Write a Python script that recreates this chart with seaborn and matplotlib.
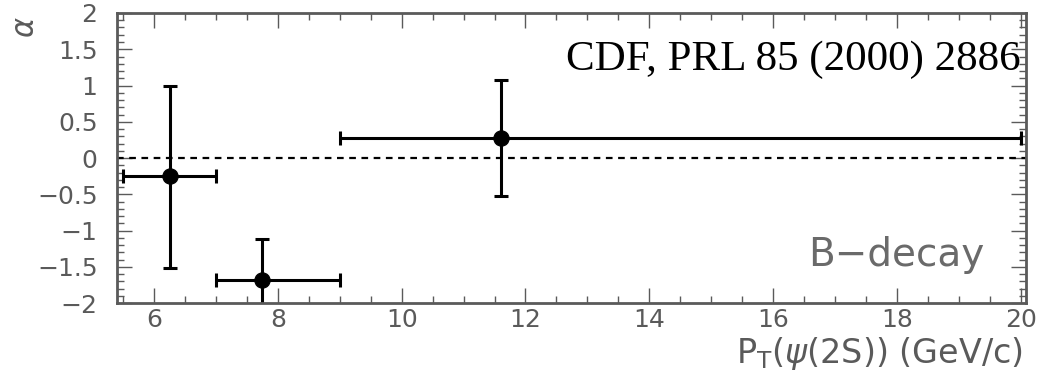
import numpy as np
import pandas as pd
import seaborn as sns
import matplotlib.pyplot as plt
from matplotlib.ticker import MultipleLocator

# data
pt = [6.25, 7.75, 11.6]
alpha = [-0.25, -1.68, 0.27]
pt_lo = [5.5, 7.0, 9.0]
pt_hi = [7.0, 9.0, 20.0]
alpha_lo = [-1.52, -2.3, -0.53]
alpha_hi = [1.0, -1.12, 1.08]

df = pd.DataFrame({"pt": pt, "alpha": alpha})
xerr = [np.array(pt) - np.array(pt_lo), np.array(pt_hi) - np.array(pt)]
yerr = [np.array(alpha) - np.array(alpha_lo), np.array(alpha_hi) - np.array(alpha)]

sns.set_style("ticks")
grey = "#5a5a5a"

fig = plt.figure(figsize=(10.54, 3.71), dpi=100)
ax = fig.add_axes([0.111, 0.183, 0.862, 0.782])

ax.axhline(0, color="black", ls=(0, (3, 2.5)), lw=1.6, zorder=1)
ax.errorbar(pt, alpha, xerr=xerr, yerr=yerr, fmt="none", ecolor="black",
            elinewidth=2.2, capsize=5, capthick=2.2, zorder=2)
sns.scatterplot(data=df, x="pt", y="alpha", ax=ax, color="black", s=120,
                edgecolor="black", zorder=3, legend=False)

ax.set_xlim(5.4, 20.08)
ax.set_ylim(-2, 2)
ax.xaxis.set_major_locator(MultipleLocator(2))
ax.xaxis.set_minor_locator(MultipleLocator(0.5))
ax.yaxis.set_minor_locator(MultipleLocator(0.1))
ax.set_yticks(np.arange(-2, 2.01, 0.5))
ax.set_yticklabels(["\u22122", "\u22121.5", "\u22121", "\u22120.5", "0", "0.5", "1", "1.5", "2"])
ax.tick_params(which="both", direction="in", top=True, right=True, colors=grey,
               labelsize=18, labelcolor=grey)
ax.tick_params(axis="y", pad=14)
ax.tick_params(which="major", length=11, width=1)
ax.tick_params(which="minor", length=5, width=1)
for s in ax.spines.values():
    s.set_color(grey)
    s.set_linewidth(2)

ax.set_xlabel(r"P$_{\mathregular{T}}$($\psi$(2S)) (GeV/c)", fontsize=24, color=grey)
ax.xaxis.set_label_coords(0.997, -0.11)
ax.xaxis.label.set_ha("right")
ax.set_ylabel(r"$\alpha$", fontsize=22, color=grey)
ax.yaxis.set_label_coords(-0.085, 0.95)

ax.text(0.995, 0.84, "CDF, PRL 85 (2000) 2886", transform=ax.transAxes,
        ha="right", va="center", fontsize=31, family="Liberation Serif", color="black")
ax.text(0.955, 0.165, "B\u2212decay", transform=ax.transAxes, ha="right", va="center",
        fontsize=28, color="#6a6a6a")

fig.savefig("out.png", dpi=100)
